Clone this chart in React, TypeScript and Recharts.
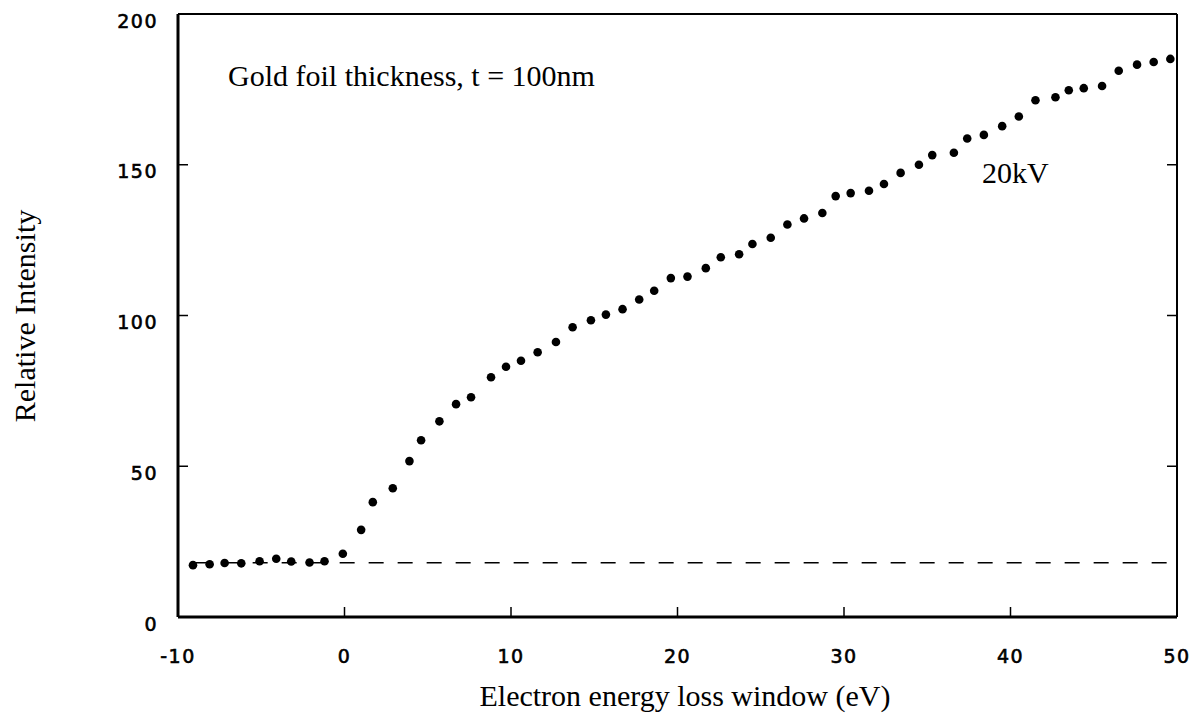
import React from "react";
import {
  ScatterChart,
  Scatter,
  XAxis,
  YAxis,
  ReferenceLine,
} from "recharts";

// energy loss window (eV) for each measured dot
const energy = [
  -9.1, -8.1, -7.2, -6.2, -5.1, -4.1, -3.2, -2.1, -1.2, -0.1,
  1.0, 1.7, 2.9, 3.9, 4.6, 5.7, 6.7, 7.6, 8.8, 9.7,
  10.6, 11.6, 12.7, 13.7, 14.8, 15.7, 16.7, 17.7, 18.6, 19.6,
  20.6, 21.7, 22.6, 23.7, 24.5, 25.6, 26.6, 27.6, 28.7, 29.5,
  30.4, 31.5, 32.4, 33.4, 34.5, 35.3, 36.6, 37.4, 38.4, 39.5,
  40.5, 41.5, 42.7, 43.5, 44.4, 45.5, 46.5, 47.6, 48.6, 49.6,
];

// relative intensity, 20kV
const intensity = [
  17.2, 17.5, 17.9, 17.8, 18.5, 19.3, 18.4, 18.1, 18.5, 21.0,
  28.9, 38.1, 42.7, 51.7, 58.6, 64.9, 70.6, 72.9, 79.5, 83.0,
  85.0, 87.8, 91.2, 96.1, 98.4, 100.3, 102.1, 105.3, 108.2, 112.4,
  112.9, 115.7, 119.3, 120.3, 123.7, 125.8, 130.2, 132.2, 134.0, 139.6,
  140.6, 141.4, 143.6, 147.3, 150.0, 153.2, 154.0, 158.7, 159.9, 162.8,
  166.0, 171.4, 172.4, 174.7, 175.4, 176.1, 181.2, 183.2, 184.1, 185.1,
];

// dashed background level
const baselineStart = -9;
const baselineEnd = 50;
const baselineLevel = 18;

const xTicks = [-10, 0, 10, 20, 30, 40, 50];
const yTicks = [0, 50, 100, 150, 200];

const points = energy.map((x, i) => ({ x, y: intensity[i] }));

const serif = "'Liberation Serif', 'Times New Roman', serif";
const sans = "'DejaVu Sans', sans-serif";

const TICK_LEN = 10;
const X_GAP = 40;
const Y_GAP = 20;

const labelStyle = {
  fontFamily: sans,
  fontSize: 19,
  letterSpacing: 1.5,
  fill: "#000",
  stroke: "#000",
  strokeWidth: 0.6,
};

// bottom axis: inward tick + label below
const XTick = (props: any) => {
  const { x, y, payload } = props;
  const axisY = y - X_GAP;
  return (
    <g>
      <line x1={x} x2={x} y1={axisY} y2={axisY - TICK_LEN} stroke="#000" strokeWidth={1.5} />
      <text x={x} y={y} textAnchor="middle" dominantBaseline="middle" {...labelStyle}>
        {payload.value}
      </text>
    </g>
  );
};

// left axis: inward tick + label to the left
const YTick = (props: any) => {
  const { x, y, payload } = props;
  const axisX = x + Y_GAP;
  return (
    <g>
      <line x1={axisX} x2={axisX + TICK_LEN} y1={y} y2={y} stroke="#000" strokeWidth={1.5} />
      <text x={x} y={y + 8} textAnchor="end" dominantBaseline="middle" {...labelStyle}>
        {payload.value}
      </text>
    </g>
  );
};

const TopTick = (props: any) => {
  const { x, y } = props;
  return <line x1={x} x2={x} y1={y} y2={y + TICK_LEN} stroke="#000" strokeWidth={1.5} />;
};

const RightTick = (props: any) => {
  const { x, y } = props;
  return <line x1={x} x2={x - TICK_LEN} y1={y} y2={y} stroke="#000" strokeWidth={1.5} />;
};

const Dot = (props: any) => (
  <circle cx={props.cx} cy={props.cy} r={4.3} fill="#000" />
);

export default function App() {
  return (
    <div
      style={{
        position: "absolute",
        left: 0,
        top: 0,
        width: 1201,
        height: 720,
        background: "#fff",
      }}
    >
      <ScatterChart
        width={1201}
        height={720}
        margin={{ top: 0, right: 0, bottom: 0, left: 0 }}
      >
        <XAxis
          type="number"
          dataKey="x"
          domain={[-10, 50]}
          ticks={xTicks}
          height={103}
          tickSize={0}
          tickMargin={X_GAP}
          tickLine={false}
          tick={<XTick />}
          axisLine={{ stroke: "#000", strokeWidth: 3 }}
          allowDataOverflow
        />
        <XAxis
          xAxisId="top"
          orientation="top"
          type="number"
          domain={[-10, 50]}
          ticks={xTicks}
          height={14}
          tickSize={0}
          tickMargin={0}
          tickLine={false}
          tick={<TopTick />}
          axisLine={{ stroke: "#000", strokeWidth: 2 }}
          allowDataOverflow
        />
        <YAxis
          type="number"
          dataKey="y"
          domain={[0, 200]}
          ticks={yTicks}
          width={178}
          tickSize={0}
          tickMargin={Y_GAP}
          tickLine={false}
          tick={<YTick />}
          axisLine={{ stroke: "#000", strokeWidth: 3 }}
          allowDataOverflow
        />
        <YAxis
          yAxisId="right"
          orientation="right"
          type="number"
          domain={[0, 200]}
          ticks={yTicks}
          width={24}
          tickSize={0}
          tickMargin={0}
          tickLine={false}
          tick={<RightTick />}
          axisLine={{ stroke: "#000", strokeWidth: 2 }}
          allowDataOverflow
        />
        <ReferenceLine
          segment={[
            { x: baselineStart, y: baselineLevel },
            { x: baselineEnd, y: baselineLevel },
          ]}
          stroke="#000"
          strokeWidth={1.6}
          strokeDasharray="15 14"
        />
        <Scatter data={points} shape={<Dot />} isAnimationActive={false} />
      </ScatterChart>

      <div
        style={{
          position: "absolute",
          left: 228,
          top: 61,
          fontFamily: serif,
          fontSize: 30,
          lineHeight: "30px",
          whiteSpace: "nowrap",
        }}
      >
        Gold foil thickness, t = 100nm
      </div>
      <div
        style={{
          position: "absolute",
          left: 982,
          top: 158,
          fontFamily: serif,
          fontSize: 30,
          lineHeight: "30px",
          whiteSpace: "nowrap",
        }}
      >
        20kV
      </div>
      <div
        style={{
          position: "absolute",
          left: 685,
          top: 681,
          transform: "translateX(-50%)",
          fontFamily: serif,
          fontSize: 30,
          lineHeight: "30px",
          whiteSpace: "nowrap",
        }}
      >
        Electron energy loss window (eV)
      </div>
      <div
        style={{
          position: "absolute",
          left: 25,
          top: 316,
          transform: "translate(-50%, -50%) rotate(-90deg)",
          fontFamily: serif,
          fontSize: 30,
          lineHeight: "30px",
          whiteSpace: "nowrap",
        }}
      >
        Relative Intensity
      </div>
    </div>
  );
}
